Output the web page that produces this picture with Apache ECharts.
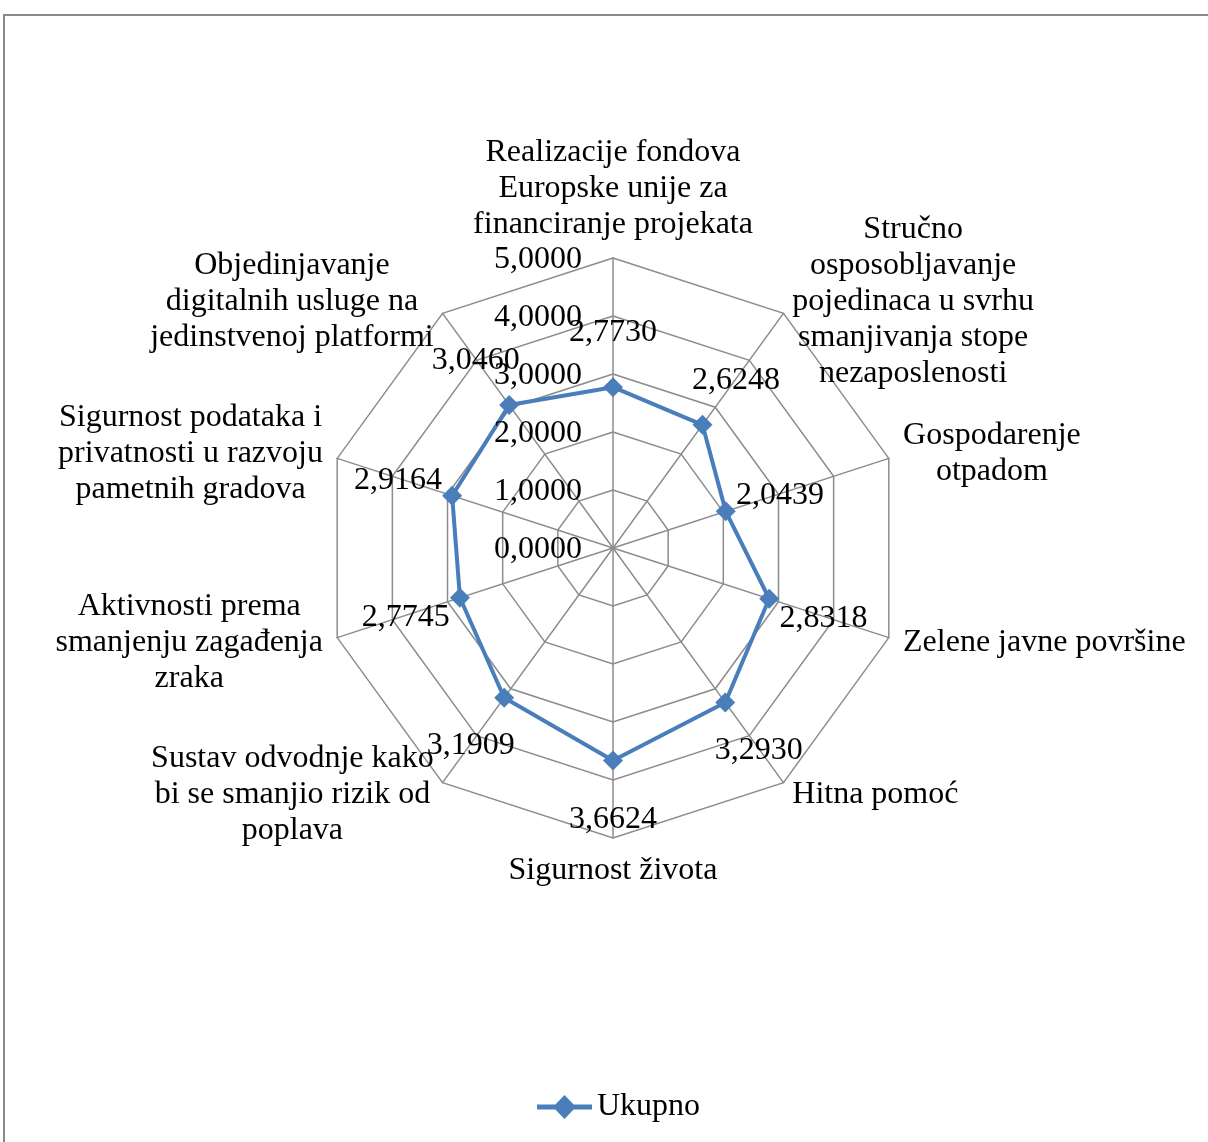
<!DOCTYPE html>
<html>
<head>
<meta charset="utf-8">
<script src="https://cdn.jsdelivr.net/npm/echarts@6/dist/echarts.min.js"></script>
<style>
  html, body { margin: 0; padding: 0; background: #fff; }
  #chart { width: 1208px; height: 1142px; }
</style>
</head>
<body>
<div id="chart"></div>
<script>
// categories clockwise from the top
const categories = [
  'Realizacije fondova\nEuropske unije za\nfinanciranje projekata',
  'Stručno\nosposobljavanje\npojedinaca u svrhu\nsmanjivanja stope\nnezaposlenosti',
  'Gospodarenje\notpadom',
  'Zelene javne površine',
  'Hitna pomoć',
  'Sigurnost života',
  'Sustav odvodnje kako\nbi se smanjio rizik od\npoplava',
  'Aktivnosti prema\nsmanjenju zagađenja\nzraka',
  'Sigurnost podataka i\nprivatnosti u razvoju\npametnih gradova',
  'Objedinjavanje\ndigitalnih usluge na\njedinstvenoj platformi'
]
const ukupno = [2.7730, 2.6248, 2.0439, 2.8318, 3.2930, 3.6624, 3.1909, 2.7745, 2.9164, 3.0460]
const ticks = [0, 1, 2, 3, 4, 5]

const FONT = 'Liberation Serif'
const SIZE = 32
const BLUE = '#4a7ebb'
const GRID = '#8c8c8c'

const fmt = v => v.toFixed(4).replace('.', ',')

// echarts radar goes counter-clockwise, so reorder
const order = [0, 9, 8, 7, 6, 5, 4, 3, 2, 1]
const indicator = order.map(i => ({ name: categories[i], min: 0, max: 5 }))
const values = order.map(i => ukupno[i])

const chart = echarts.init(document.getElementById('chart'))

// one invisible series per point, only to place its label radially outward
const labelSeries = categories.map((c, k) => {
  const a = k * 36 * Math.PI / 180
  return {
    type: 'radar',
    z: 5,
    silent: true,
    symbol: 'circle',
    symbolSize: 1,
    itemStyle: { color: 'transparent' },
    lineStyle: { width: 0, opacity: 0 },
    label: {
      show: true,
      position: 'inside',
      offset: [57 * Math.sin(a), -57 * Math.cos(a) + 2],
      fontFamily: FONT,
      fontSize: SIZE,
      color: '#000',
      formatter: p => order[p.dimensionIndex] === k ? fmt(p.value) : ''
    },
    data: [{ value: values, name: 'lbl' + k }]
  }
})

chart.setOption({
  animation: false,
  graphic: [{
    type: 'rect',
    shape: { x: 4, y: 15, width: 1240, height: 1160 },
    style: { fill: 'none', stroke: '#8a8a8a', lineWidth: 2 }
  }],
  legend: {
    data: ['Ukupno'],
    left: 532,
    top: 1086,
    itemWidth: 55,
    itemHeight: 24,
    itemGap: 5,
    icon: 'path://M0,9.5L55,9.5L55,14.5L0,14.5Z M27.5,0L39,12L27.5,24L16,12Z',
    textStyle: { fontFamily: FONT, fontSize: SIZE, color: '#000' }
  },
  radar: {
    center: [613, 548],
    radius: 290,
    shape: 'polygon',
    splitNumber: 5,
    indicator: indicator,
    nameGap: 15,
    axisName: {
      color: '#000',
      fontFamily: FONT,
      fontSize: SIZE,
      lineHeight: 36,
      formatter: name => name.split('\n').map(l => '{c|' + l + '}').join('\n'),
      rich: {
        c: { align: 'center', fontFamily: FONT, fontSize: SIZE, lineHeight: 36, color: '#000' }
      }
    },
    axisLine: { lineStyle: { color: GRID, width: 1.5 } },
    splitLine: { lineStyle: { color: GRID, width: 1.5 } },
    splitArea: { show: false }
  },
  polar: {
    center: [613, 550],
    radius: 290
  },
  angleAxis: {
    show: false,
    startAngle: 90
  },
  radiusAxis: {
    min: ticks[0],
    max: ticks[ticks.length - 1],
    interval: 1,
    axisLine: { show: false },
    axisTick: { show: false },
    splitLine: { show: false },
    axisLabel: {
      margin: 31,
      fontFamily: FONT,
      fontSize: SIZE,
      color: '#000',
      formatter: v => fmt(v)
    },
    z: 4
  },
  series: [{
    type: 'radar',
    name: 'Ukupno',
    z: 3,
    symbol: 'diamond',
    symbolSize: 20,
    itemStyle: { color: BLUE },
    lineStyle: { color: BLUE, width: 4 },
    data: [{ value: values, name: 'Ukupno' }]
  }].concat(labelSeries)
})
</script>
</body>
</html>
